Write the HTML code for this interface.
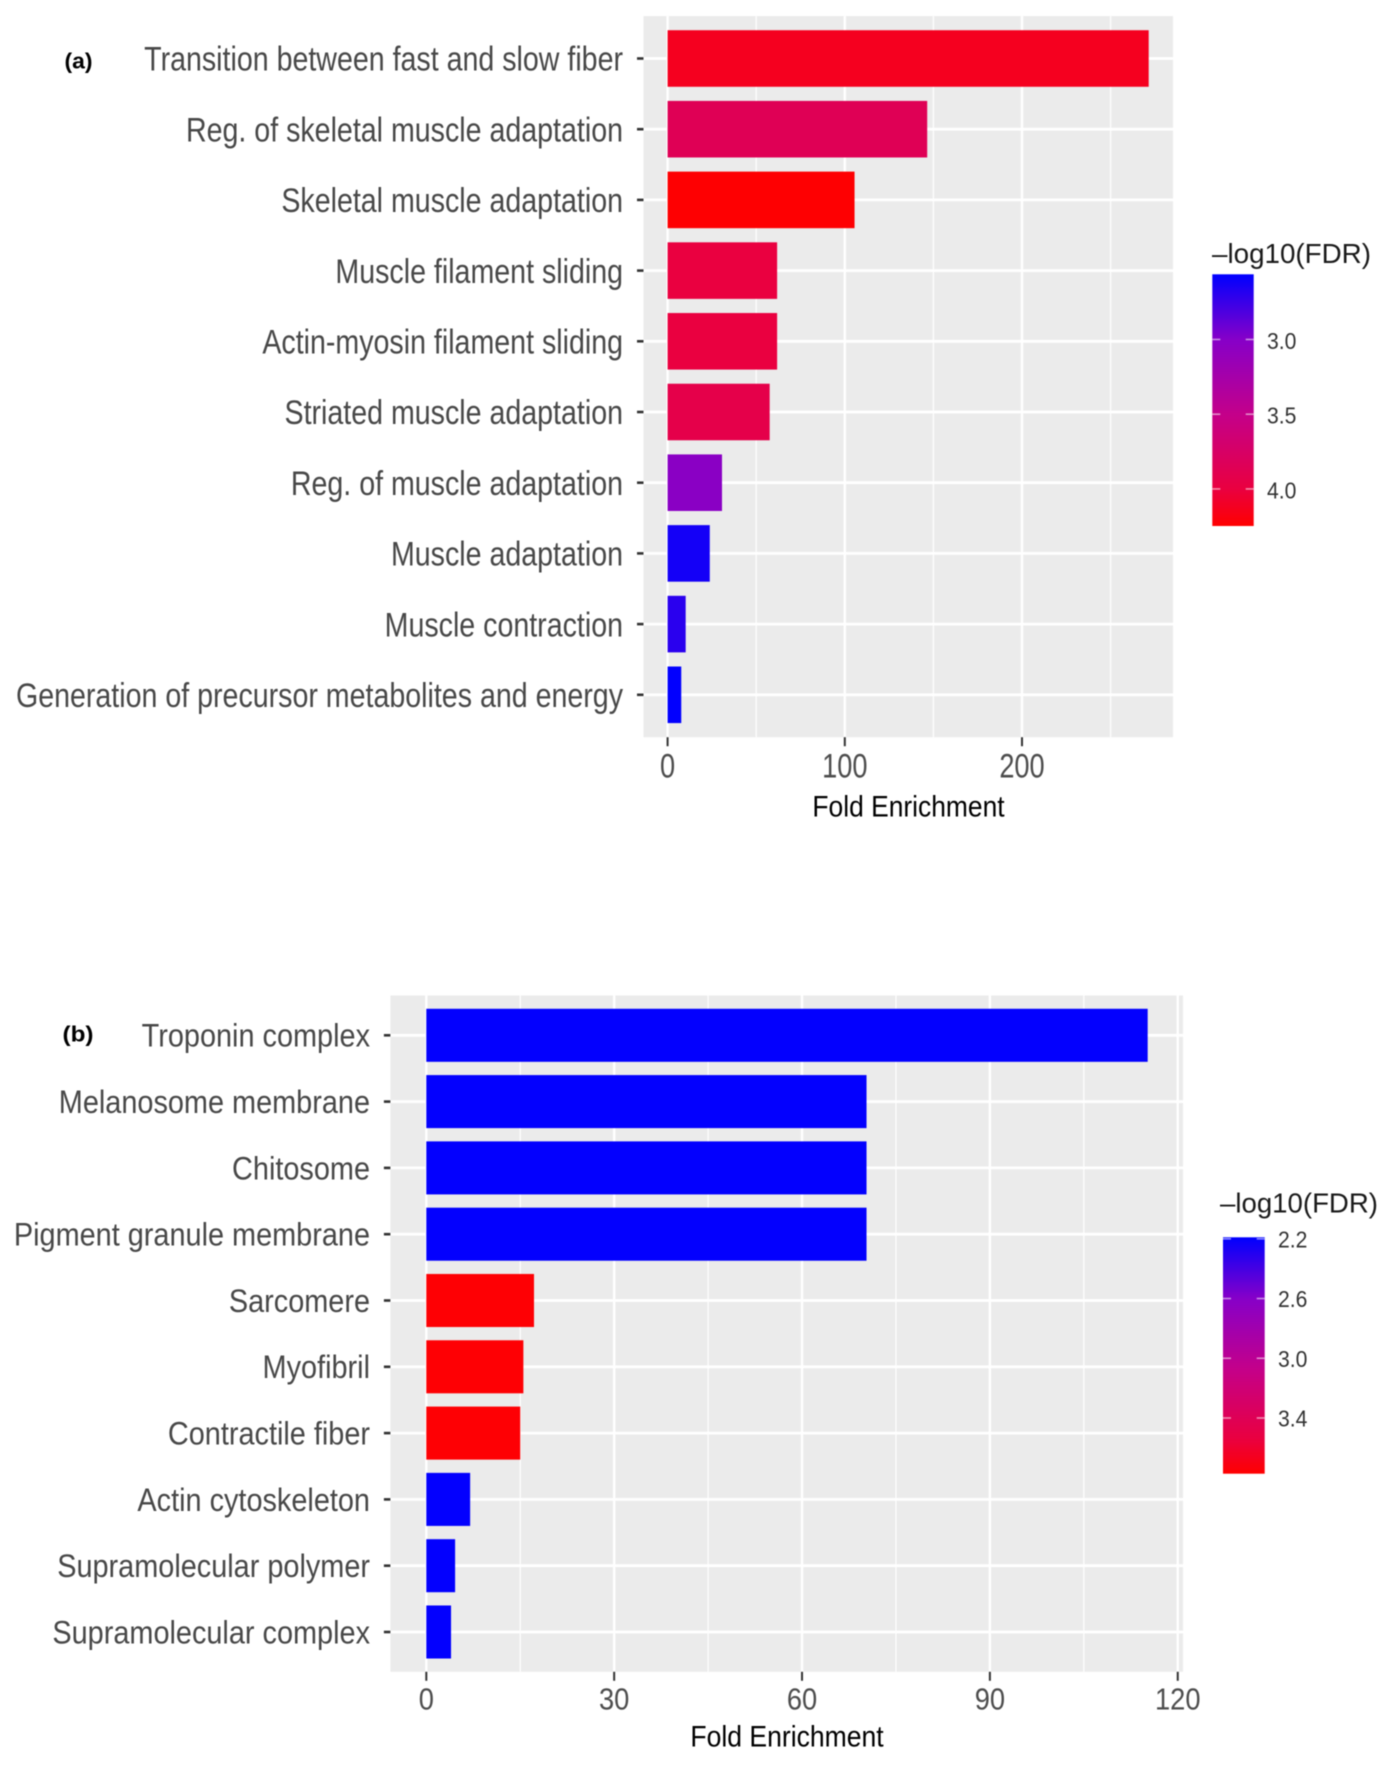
<!DOCTYPE html>
<html lang="en">
<head>
<meta charset="utf-8">
<title>Fold enrichment bar charts</title>
<style>
html,body{margin:0;padding:0;background:#fff;}
body{width:1397px;height:1769px;overflow:hidden;}
svg{display:block;filter:blur(0.45px);}
text{font-family:"Liberation Sans",Arial,sans-serif;}
</style>
</head>
<body>
<svg id="figure" xmlns="http://www.w3.org/2000/svg" width="1397" height="1769" viewBox="0 0 1397 1769">
  <rect x="0" y="0" width="1397" height="1769" fill="#ffffff"/>
  <text x="64.5" y="68.5" font-size="22.5" font-weight="700" fill="#000" textLength="28" lengthAdjust="spacingAndGlyphs">(a)</text>
  <text x="62.5" y="1041.5" font-size="22.5" font-weight="700" fill="#000" textLength="31" lengthAdjust="spacingAndGlyphs">(b)</text>
</svg>
<script>
// Panel (a) data
const categoriesA = ["Transition between fast and slow fiber","Reg. of skeletal muscle adaptation","Skeletal muscle adaptation","Muscle filament sliding","Actin-myosin filament sliding","Striated muscle adaptation","Reg. of muscle adaptation","Muscle adaptation","Muscle contraction","Generation of precursor metabolites and energy"];
const foldEnrichmentA = [271.5, 146.5, 105.5, 61.8, 61.8, 57.6, 30.7, 23.8, 10.2, 7.7];
const fdrA = [4.13, 3.86, 4.24, 4.0, 4.0, 3.93, 3.03, 2.63, 2.70, 2.57];
const xMajorTicksA = [0, 100, 200];
const xMinorTicksA = [50, 150, 250];
const legendTicksA = [3.0, 3.5, 4.0];

// Panel (b) data
const categoriesB = ["Troponin complex","Melanosome membrane","Chitosome","Pigment granule membrane","Sarcomere","Myofibril","Contractile fiber","Actin cytoskeleton","Supramolecular polymer","Supramolecular complex"];
const foldEnrichmentB = [115.2, 70.3, 70.3, 70.3, 17.2, 15.5, 15, 7, 4.6, 3.95];
const fdrB = [2.2, 2.2, 2.2, 2.2, 3.76, 3.76, 3.76, 2.2, 2.2, 2.2];
const xMajorTicksB = [0, 30, 60, 90, 120];
const xMinorTicksB = [15, 45, 75, 105];
const legendTicksB = [2.2, 2.6, 3.0, 3.4];

const colorStops = [[0,[0,0,255]],[0.26,[135,0,200]],[0.556,[196,0,138]],[0.853,[234,0,64]],[1,[255,0,0]]];

const NS = "http://www.w3.org/2000/svg";
const root = document.getElementById("figure");

function colorAt(t) {
  const c = Math.max(0, Math.min(1, t));
  for (let i = 1; i < colorStops.length; i++) {
    const a = colorStops[i - 1], b = colorStops[i];
    if (c <= b[0]) {
      const f = (c - a[0]) / (b[0] - a[0]);
      const m = a[1].map((v, k) => Math.round(v + (b[1][k] - v) * f));
      return "rgb(" + m.join(",") + ")";
    }
  }
  return "rgb(255,0,0)";
}

function mk(tag, attrs, parent) {
  const el = document.createElementNS(NS, tag);
  for (const k in attrs) el.setAttribute(k, attrs[k]);
  parent.appendChild(el);
  return el;
}

function drawPanel(p) {
  const g = mk("g", {}, root);
  
  

  const xScale = v => p.x0 + v * p.xUnit;
  const yScale = i => p.y0 + i * p.band;
  const panelTop = p.y0 - 0.6 * p.band;
  const panelBottom = yScale(p.categories.length - 1) + 0.6 * p.band;

  const bg = mk("rect", {x: p.left, y: panelTop, width: p.right - p.left, height: panelBottom - panelTop, fill: "#ebebeb"}, g);
  
  

  p.minor.forEach(v => {
    const l = mk("line", {x1: xScale(v), x2: xScale(v), y1: panelTop, y2: panelBottom, stroke: "#fff", "stroke-width": 1.2}, g);
    
    
  });
  p.major.forEach(v => {
    const l = mk("line", {x1: xScale(v), x2: xScale(v), y1: panelTop, y2: panelBottom, stroke: "#fff", "stroke-width": 2.4}, g);
    
    

    const t = mk("line", {x1: xScale(v), x2: xScale(v), y1: panelBottom, y2: panelBottom + 9, stroke: "#333", "stroke-width": 2}, g);
    
    

    const lab = mk("text", {transform: "translate(" + xScale(v) + "," + p.xLabelY + ") scale(" + p.xLabelSx + ",1)", "text-anchor": "middle", "font-size": p.xLabelSize, fill: "#4d4d4d"}, g);
    lab.textContent = String(v);
    
    
  });

  p.categories.forEach((name, i) => {
    const y = yScale(i);
    const gl = mk("line", {x1: p.left, x2: p.right, y1: y, y2: y, stroke: "#fff", "stroke-width": 2.8}, g);
    
    

    const tick = mk("line", {x1: p.left - 6.5, x2: p.left, y1: y, y2: y, stroke: "#333", "stroke-width": 2.6}, g);
    
    

    const lab = mk("text", {transform: "translate(" + p.labelRight + "," + (y + p.labelDy) + ") scale(" + p.labelSx + ",1)", "text-anchor": "end", "font-size": p.labelSize, fill: "#484848"}, g);
    lab.textContent = name;
    
    
  });

  p.categories.forEach((name, i) => {
    const h = 0.8 * p.band;
    const bar = mk("rect", {x: xScale(0), y: yScale(i) - h / 2, width: xScale(p.values[i]) - xScale(0), height: h, fill: colorAt((p.fdr[i] - p.legendMin) / (p.legendMax - p.legendMin))}, g);
    
    
  });

  const ax = mk("text", {transform: "translate(" + p.axisTitleX + "," + p.axisTitleY + ") scale(" + p.axisTitleSx + ",1)", "text-anchor": "middle", "font-size": 30, fill: "#000"}, g);
  ax.textContent = "Fold Enrichment";
  
  

  // Legend
  const legend = mk("g", {}, g);
  
  

  const defs = mk("defs", {}, legend);
  const grad = mk("linearGradient", {id: p.id + "-grad", x1: 0, y1: 0, x2: 0, y2: 1}, defs);
  colorStops.forEach(s => {
    mk("stop", {offset: s[0], "stop-color": colorAt(s[0])}, grad);
  });

  const title = mk("text", {x: p.legendX, y: p.legendTitleY, "font-size": 28, fill: "#1a1a1a", textLength: p.legendTitleW, lengthAdjust: "spacingAndGlyphs"}, legend);
  title.textContent = "\u2013log10(FDR)";
  
  

  const cbar = mk("rect", {x: p.barX, y: p.barTop, width: p.barW, height: p.barBottom - p.barTop, fill: "url(#" + p.id + "-grad)"}, legend);
  
  

  const legendY = v => p.barTop + (v - p.legendMin) / (p.legendMax - p.legendMin) * (p.barBottom - p.barTop);
  p.legendTicks.forEach(v => {
    const y = legendY(v);
    [[p.barX, p.barX + 8], [p.barX + p.barW - 8, p.barX + p.barW]].forEach(pair => {
      const t = mk("line", {x1: pair[0], x2: pair[1], y1: y, y2: y, stroke: "#fff", "stroke-opacity": 0.55, "stroke-width": 1.6}, legend);
      
      
    });
    const lab = mk("text", {transform: "translate(" + p.legendLabelX + "," + (y + p.legendLabelDy) + ") scale(0.9,1)", "font-size": 23.5, fill: "#333"}, legend);
    lab.textContent = v.toFixed(1);
    
    
  });
}

drawPanel({
  id: "panel-a",
  categories: categoriesA, values: foldEnrichmentA, fdr: fdrA,
  major: xMajorTicksA, minor: xMinorTicksA, legendTicks: legendTicksA,
  left: 643.5, right: 1173, x0: 667.6, xUnit: 1.772, y0: 58.5, band: 70.7,
  labelRight: 623, labelDy: 12.2, labelSize: 34, labelSx: 0.841,
  xLabelY: 777.5, xLabelSize: 34, xLabelSx: 0.8,
  axisTitleX: 908.5, axisTitleY: 816.5, axisTitleSx: 0.88,
  legendX: 1212, legendTitleY: 263, legendTitleW: 159,
  barX: 1212.3, barW: 41.4, barTop: 274.3, barBottom: 526,
  legendMin: 2.564, legendMax: 4.248,
  legendLabelX: 1267, legendLabelDy: 9.5
});

drawPanel({
  id: "panel-b",
  categories: categoriesB, values: foldEnrichmentB, fdr: fdrB,
  major: xMajorTicksB, minor: xMinorTicksB, legendTicks: legendTicksB,
  left: 390.4, right: 1183, x0: 426.3, xUnit: 6.262, y0: 1035.3, band: 66.3,
  labelRight: 370, labelDy: 11.4, labelSize: 32, labelSx: 0.902,
  xLabelY: 1709.5, xLabelSize: 31, xLabelSx: 0.88,
  axisTitleX: 787, axisTitleY: 1746.5, axisTitleSx: 0.885,
  legendX: 1220, legendTitleY: 1212.5, legendTitleW: 158,
  barX: 1223, barW: 41.7, barTop: 1237.3, barBottom: 1473.7,
  legendMin: 2.19, legendMax: 3.773,
  legendLabelX: 1278, legendLabelDy: 8.5
});
</script>
</body>
</html>
